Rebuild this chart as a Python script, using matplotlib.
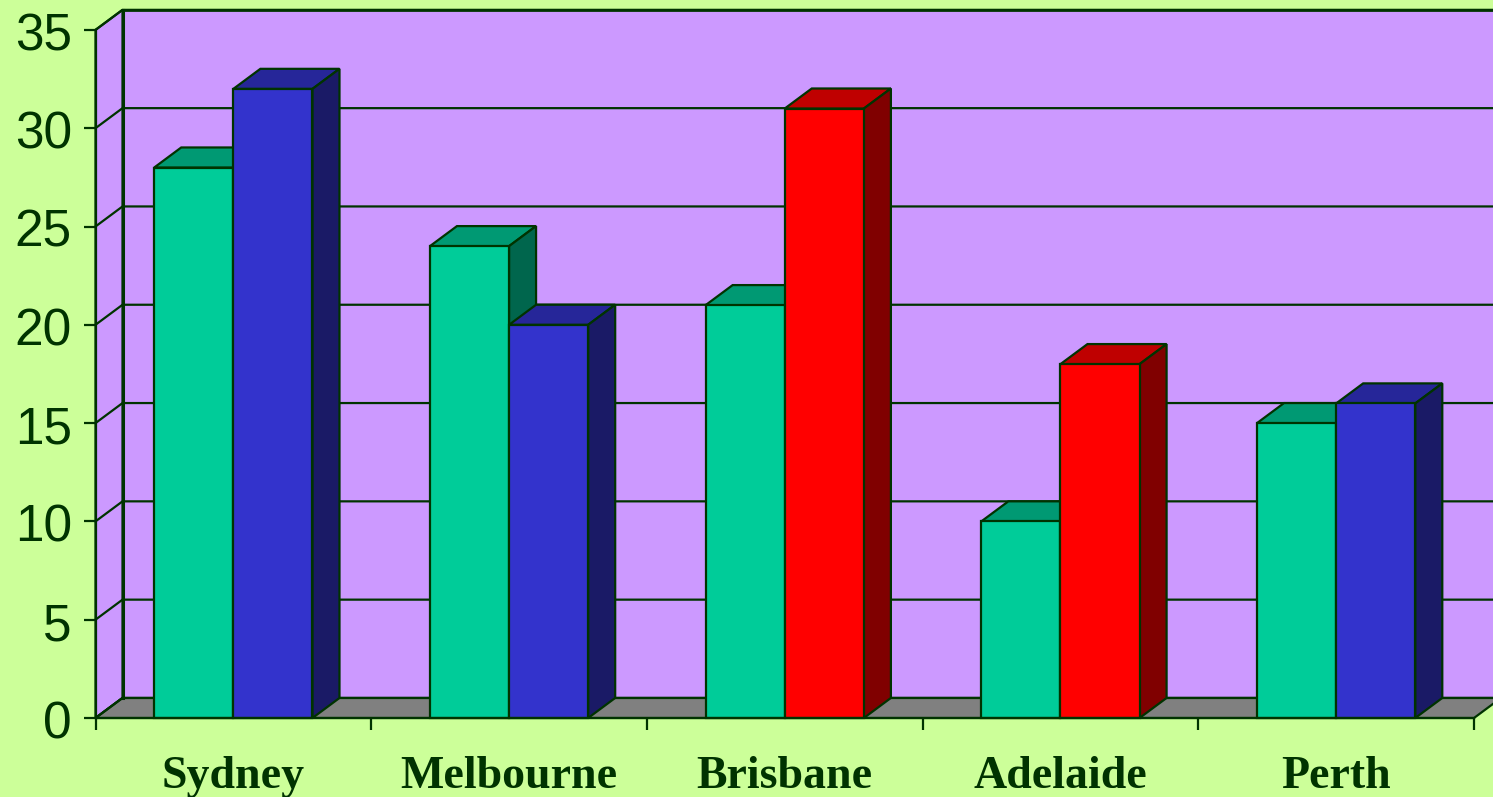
import numpy as np
import matplotlib
matplotlib.use('Agg')
import matplotlib.pyplot as plt
from matplotlib.transforms import ScaledTranslation

cities = ['Sydney', 'Melbourne', 'Brisbane', 'Adelaide', 'Perth']
first_values = [28, 24, 21, 10, 15]
second_values = [32, 20, 31, 18, 16]
second_is_red = [False, False, True, True, False]
y_ticks = [0, 5, 10, 15, 20, 25, 30, 35]

BG = '#CCFF99'
WALL = '#CC99FF'
FLOOR = '#808080'
EDGE = '#003300'
TEAL = ('#00CC99', '#009973', '#00664D')
BLUE = ('#3333CC', '#262699', '#1A1A66')
RED = ('#FF0000', '#BF0000', '#800000')

bar_width = 0.287
depth_x = 0.098
depth_y = 1.02
lw = 1.6


def draw_bar(ax, left, height, colors):
    right = left + bar_width
    # top and side faces first, front face over them
    ax.fill([left, left + depth_x, right + depth_x, right],
            [height, height + depth_y, height + depth_y, height],
            facecolor=colors[1], edgecolor=EDGE, lw=lw, joinstyle='miter')
    ax.fill([right, right + depth_x, right + depth_x, right],
            [0, depth_y, height + depth_y, height],
            facecolor=colors[2], edgecolor=EDGE, lw=lw, joinstyle='miter')
    ax.bar(left, height, bar_width, align='edge', facecolor=colors[0],
           edgecolor=EDGE, lw=lw)


fig = plt.figure(figsize=(14.93, 7.97), dpi=100, facecolor=BG)
ax = fig.add_axes([0, 0, 1, 1], facecolor=BG)

# plot scale: 275.7 px per category, 19.66 px per unit, origin at (95.5, 718)
ax.set_xlim(-95.5 / 275.7, (1493 - 95.5) / 275.7)
ax.set_ylim((718 - 797) / 19.66, 718 / 19.66)

n = len(cities)
top = y_ticks[-1]

# walls and floor
ax.fill([depth_x, n + depth_x, n + depth_x, depth_x],
        [depth_y, depth_y, top + depth_y, top + depth_y],
        facecolor=WALL, edgecolor='none', zorder=0.1)
ax.fill([0, depth_x, depth_x, 0], [0, depth_y, top + depth_y, top],
        facecolor=WALL, edgecolor=EDGE, lw=lw, zorder=0.2)
ax.fill([0, n, n + depth_x, depth_x], [0, 0, depth_y, depth_y],
        facecolor=FLOOR, edgecolor=EDGE, lw=lw, zorder=0.2)

# gridlines run across the back wall and down the side wall
for t in y_ticks:
    ax.plot([0, depth_x, n + depth_x], [t, t + depth_y, t + depth_y],
            color=EDGE, lw=lw, zorder=0.3, solid_joinstyle='miter')
ax.plot([depth_x, depth_x], [depth_y, top + depth_y], color=EDGE, lw=2.2, zorder=0.4)
ax.plot([depth_x, n + depth_x], [top + depth_y] * 2, color=EDGE, lw=2.0, zorder=0.4)

for i in range(n):
    centre = i + 0.5
    draw_bar(ax, centre - bar_width, first_values[i], TEAL)
    draw_bar(ax, centre, second_values[i], RED if second_is_red[i] else BLUE)

for side in ['top', 'right']:
    ax.spines[side].set_visible(False)
ax.spines['left'].set_position(('data', 0))
ax.spines['left'].set_bounds(0, top)
ax.spines['bottom'].set_position(('data', 0))
ax.spines['bottom'].set_bounds(0, n)
for side in ['left', 'bottom']:
    ax.spines[side].set_color(EDGE)
    ax.spines[side].set_linewidth(lw)

ax.set_yticks(y_ticks)
ax.tick_params(axis='y', length=8.5, width=lw, color=EDGE, labelcolor=EDGE, pad=8.5)
# digits sit a little below their ticks
label_shift = ScaledTranslation(0, -5 / 72, fig.dpi_scale_trans)
for label in ax.get_yticklabels():
    label.set_family('Liberation Sans')
    label.set_fontsize(37)
    label.set_va('center')
    label.set_transform(label.get_transform() + label_shift)

ax.set_xticks(np.arange(n + 1))
ax.set_xticklabels([])
ax.set_xticks(np.arange(n) + 0.5, labels=cities, minor=True)
ax.tick_params(axis='x', which='major', length=8.5, width=lw, color=EDGE)
ax.tick_params(axis='x', which='minor', length=0, labelcolor=EDGE, pad=27)
for label in ax.get_xticklabels(minor=True):
    label.set_family('Liberation Serif')
    label.set_fontweight('bold')
    label.set_fontsize(33)

fig.savefig('out.png', dpi=100, facecolor=BG)
